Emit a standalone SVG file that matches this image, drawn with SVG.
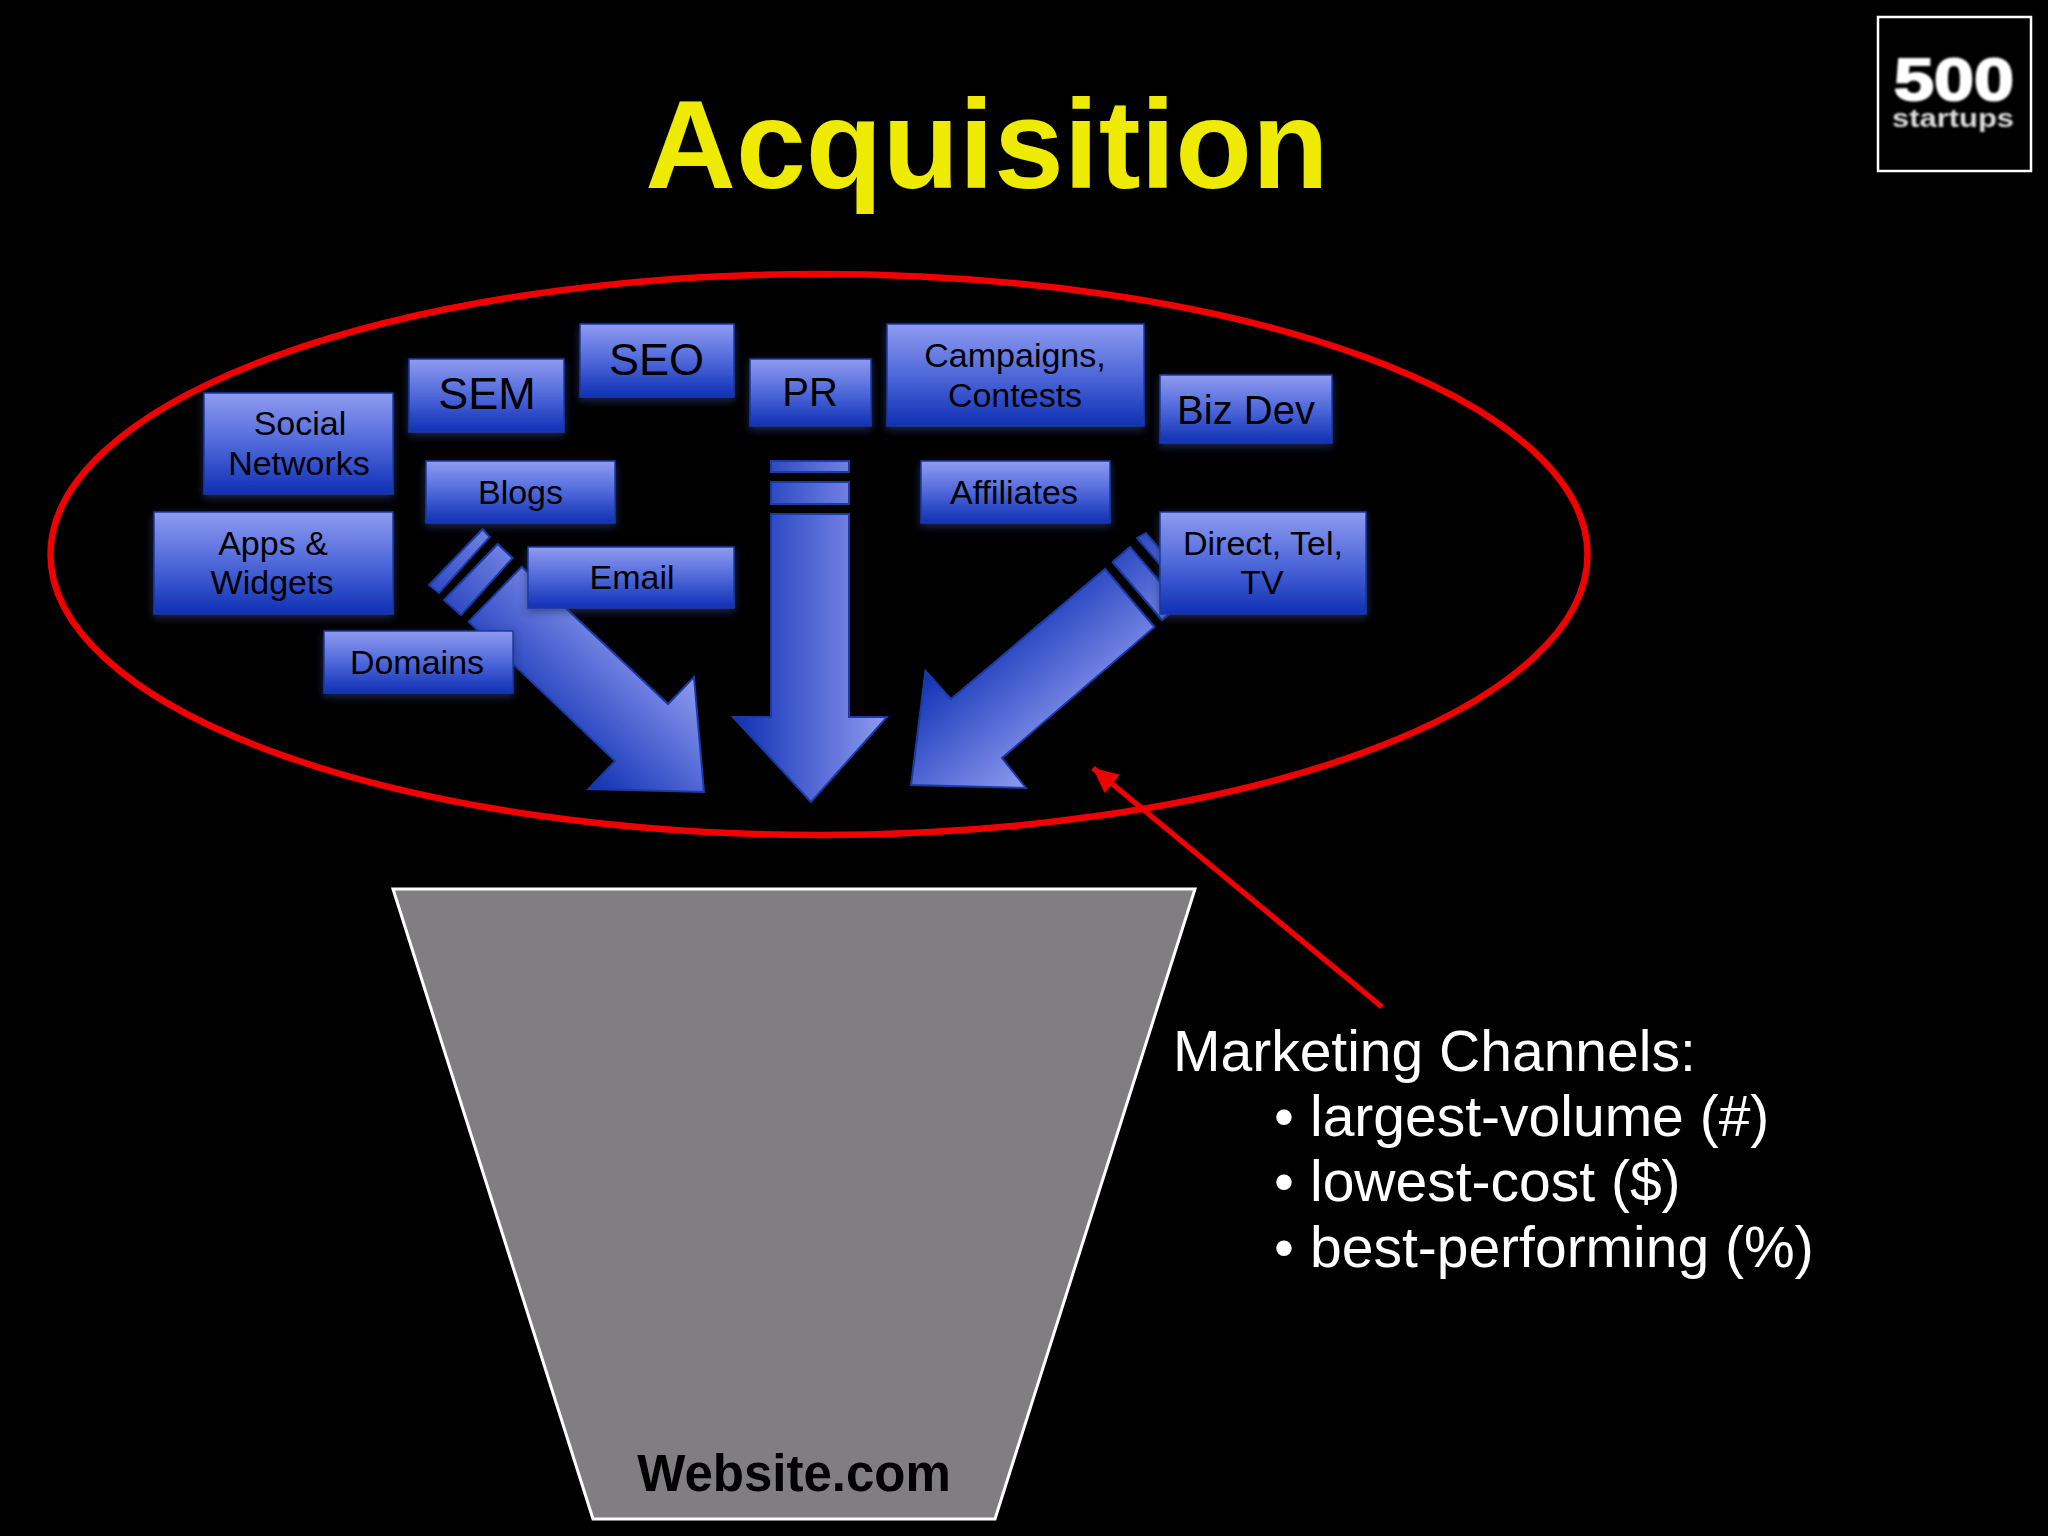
<svg xmlns="http://www.w3.org/2000/svg" width="2048" height="1536" viewBox="0 0 2048 1536">
<defs>
<linearGradient id="box" x1="0" y1="0" x2="0" y2="1"><stop offset="0" stop-color="#8f9bf0"/><stop offset="0.5" stop-color="#4f68da"/><stop offset="1" stop-color="#0f30b4"/></linearGradient>
<linearGradient id="ad" gradientUnits="userSpaceOnUse" x1="733" y1="0" x2="887" y2="0"><stop offset="0" stop-color="#0f30b4"/><stop offset="1" stop-color="#8f9bf0"/></linearGradient>
<linearGradient id="al" gradientUnits="userSpaceOnUse" x1="588" y1="789" x2="694" y2="677"><stop offset="0" stop-color="#0f30b4"/><stop offset="1" stop-color="#8f9bf0"/></linearGradient>
<linearGradient id="ar" gradientUnits="userSpaceOnUse" x1="925" y1="671" x2="1026" y2="788"><stop offset="0" stop-color="#0f30b4"/><stop offset="1" stop-color="#8f9bf0"/></linearGradient>
<filter id="glow" x="-10%" y="-15%" width="120%" height="135%"><feDropShadow dx="0" dy="3" stdDeviation="4" flood-color="#28356e" flood-opacity="0.75"/></filter>
<filter id="soft" x="-5%" y="-10%" width="110%" height="120%"><feGaussianBlur stdDeviation="0.9"/></filter>
<marker id="redhead" markerUnits="userSpaceOnUse" markerWidth="30" markerHeight="30" refX="25" refY="12" orient="auto"><path d="M0 0L25 12L0 24Z" fill="#f00000"/></marker>
</defs>
<style>
text{font-family:"Liberation Sans",Arial,sans-serif}
.b rect{fill:url(#box);stroke:#1a3aa4;stroke-width:1.5;filter:url(#glow)}
.b text{fill:#000;text-anchor:middle}
.s34{font-size:34px}.s40{font-size:40px}.s45{font-size:45px}
.m{fill:#fff;font-size:57px}
.ar{stroke:#1a3aa4;stroke-width:2}
</style>
<rect width="2048" height="1536" fill="#000"/>
<text id="title" x="987" y="188" font-size="125.500" font-weight="700" fill="#eeea00" text-anchor="middle">Acquisition</text>
<g id="logo">
<rect x="1878" y="17" width="153" height="154" fill="#000" stroke="#fff" stroke-width="2.5"/>
<g filter="url(#soft)" fill="#fff">
<text x="1954" y="100" font-size="60" font-weight="700" text-anchor="middle" stroke="#fff" stroke-width="2" textLength="120" lengthAdjust="spacingAndGlyphs">500</text>
<text x="1953" y="127" font-size="26" font-weight="700" text-anchor="middle" fill="#ddd" textLength="122" lengthAdjust="spacingAndGlyphs">startups</text>
</g>
</g>
<g id="funnel">
<path d="M393 889H1195L995 1519H593Z" fill="#807e81" stroke="#fff" stroke-width="3"/>
<text x="794" y="1491" font-size="51" font-weight="700" fill="#000" text-anchor="middle">Website.com</text>
</g>
<ellipse id="channels-ring" cx="819" cy="554.500" rx="768.500" ry="280.500" fill="none" stroke="#f00000" stroke-width="6.500"/>
<g id="connectors">
<g id="arrow-left" class="ar">
<path fill="url(#al)" d="M429 585L482.600 529L489.700 537L439 593Z"/>
<path fill="url(#al)" d="M444 600L497.600 544L512.600 558L461 615Z"/>
<path fill="url(#al)" d="M468.700 621.700L521.700 566.700L668 704L694 677L704 792L588.500 789L615 761Z"/>
</g>
<g id="arrow-down" class="ar">
<path fill="url(#ad)" d="M771 461H849V472H771Z"/>
<path fill="url(#ad)" d="M771 482H849V504H771Z"/>
<path fill="url(#ad)" d="M771 514H849V717H887L811 802L733 717H771Z"/>
</g>
<g id="arrow-right" class="ar">
<path fill="url(#ar)" d="M1137 538L1146 533L1196 591L1187 596Z"/>
<path fill="url(#ar)" d="M1112.500 562L1130 547L1180 605L1162 620Z"/>
<path fill="url(#ar)" d="M1105 569L1154.500 627L1002 758L1026 788L911 785L925.500 671L951 699Z"/>
</g>
<line id="callout" x1="1382" y1="1007" x2="1093" y2="768" stroke="#f00000" stroke-width="5.500" marker-end="url(#redhead)"/>
</g>
<g id="social" class="b"><rect x="204" y="393" width="189" height="101"/><text class="s34" x="300" y="435">Social</text><text class="s34" x="299" y="475">Networks</text></g>
<g id="sem" class="b"><rect x="409" y="359" width="155" height="73"/><text class="s45" x="487" y="409">SEM</text></g>
<g id="seo" class="b"><rect x="580" y="324" width="154" height="73"/><text class="s45" x="656.500" y="375">SEO</text></g>
<g id="blogs" class="b"><rect x="426" y="461" width="189" height="62"/><text class="s34" x="520.500" y="504">Blogs</text></g>
<g id="apps" class="b"><rect x="154" y="512" width="239" height="102"/><text class="s34" x="273" y="555">Apps &amp;</text><text class="s34" x="272" y="594">Widgets</text></g>
<g id="email" class="b"><rect x="528" y="547" width="206" height="61"/><text class="s34" x="632" y="589">Email</text></g>
<g id="domains" class="b"><rect x="324" y="631" width="189" height="62"/><text class="s34" x="417" y="674">Domains</text></g>
<g id="pr" class="b"><rect x="750" y="359" width="121" height="67"/><text class="s40" x="810" y="406">PR</text></g>
<g id="campaigns" class="b"><rect x="887" y="324" width="257" height="102"/><text class="s34" x="1015" y="367">Campaigns,</text><text class="s34" x="1015" y="407">Contests</text></g>
<g id="bizdev" class="b"><rect x="1160" y="375" width="172" height="68"/><text class="s40" x="1246" y="424">Biz Dev</text></g>
<g id="affiliates" class="b"><rect x="921" y="461" width="189" height="62"/><text class="s34" x="1014" y="504">Affiliates</text></g>
<g id="direct" class="b"><rect x="1160" y="512" width="206" height="102"/><text class="s34" x="1263" y="555">Direct, Tel,</text><text class="s34" x="1262" y="594">TV</text></g>
<g id="note">
<text class="m" x="1173" y="1071">Marketing Channels:</text>
<text class="m" x="1274" y="1136">•</text><text class="m" x="1310" y="1136">largest-volume (#)</text>
<text class="m" x="1274" y="1201">•</text><text class="m" x="1310" y="1201">lowest-cost ($)</text>
<text class="m" x="1274" y="1267">•</text><text class="m" x="1310" y="1267">best-performing (%)</text>
</g>
</svg>
